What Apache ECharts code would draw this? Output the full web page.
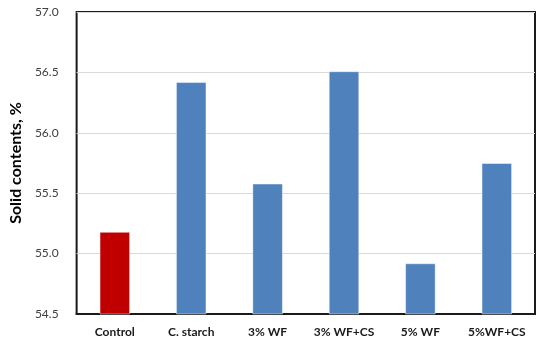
<!DOCTYPE html>
<html>
<head>
<meta charset="utf-8">
<script src="https://cdn.jsdelivr.net/npm/echarts@6/dist/echarts.min.js"></script>
<style>
  html, body { margin: 0; padding: 0; background: #fff; }
  #chart { width: 537px; height: 342px; }
</style>
</head>
<body>
<div id="chart"></div>
<script>
// Solid content of each formulation
const categories = ['Control', 'C. starch', '3% WF', '3% WF+CS', '5% WF', '5%WF+CS'];
const solidContents = [55.18, 56.42, 55.58, 56.51, 54.92, 55.75];
const barColors = ['#c00000', '#4f81bd', '#4f81bd', '#4f81bd', '#4f81bd', '#4f81bd'];

const yMin = 54.5;
const yMax = 57.0;
const yStep = 0.5;

const font = 'Lato, "Liberation Sans", sans-serif';

const chart = echarts.init(document.getElementById('chart'), null, { renderer: 'canvas' });

chart.setOption({
  animation: false,
  backgroundColor: '#ffffff',
  grid: {
    left: 72, right: 2, top: 12, bottom: 28,
    show: true,
    borderColor: '#1a1a1a',
    borderWidth: 2,
    backgroundColor: 'transparent'
  },
  xAxis: {
    type: 'category',
    data: categories,
    axisLine: { show: true, lineStyle: { color: '#1a1a1a', width: 2 } },
    axisTick: { show: false },
    axisLabel: {
      interval: 0,
      hideOverlap: false,
      color: '#1a1a1a',
      fontFamily: font,
      fontWeight: 'bold',
      fontSize: 12,
      margin: 12
    }
  },
  yAxis: {
    type: 'value',
    min: yMin,
    max: yMax,
    interval: yStep,
    name: 'Solid contents, %',
    nameLocation: 'middle',
    nameGap: 45,
    nameRotate: 90,
    nameTextStyle: {
      color: '#000',
      fontFamily: font,
      fontWeight: 'bold',
      fontSize: 16
    },
    axisLine: { show: false },
    axisTick: { show: false },
    splitLine: { show: true, lineStyle: { color: '#d9d9d9', width: 1 } },
    axisLabel: {
      color: '#404040',
      fontFamily: font,
      fontSize: 12,
      margin: 18,
      formatter: v => v.toFixed(1)
    }
  },
  series: [{
    type: 'bar',
    barWidth: '40%',
    data: solidContents.map((v, i) => ({
      value: v,
      itemStyle: { color: barColors[i], borderColor: 'rgba(255,255,255,0.45)', borderWidth: 1 }
    }))
  }]
});
</script>
</body>
</html>
